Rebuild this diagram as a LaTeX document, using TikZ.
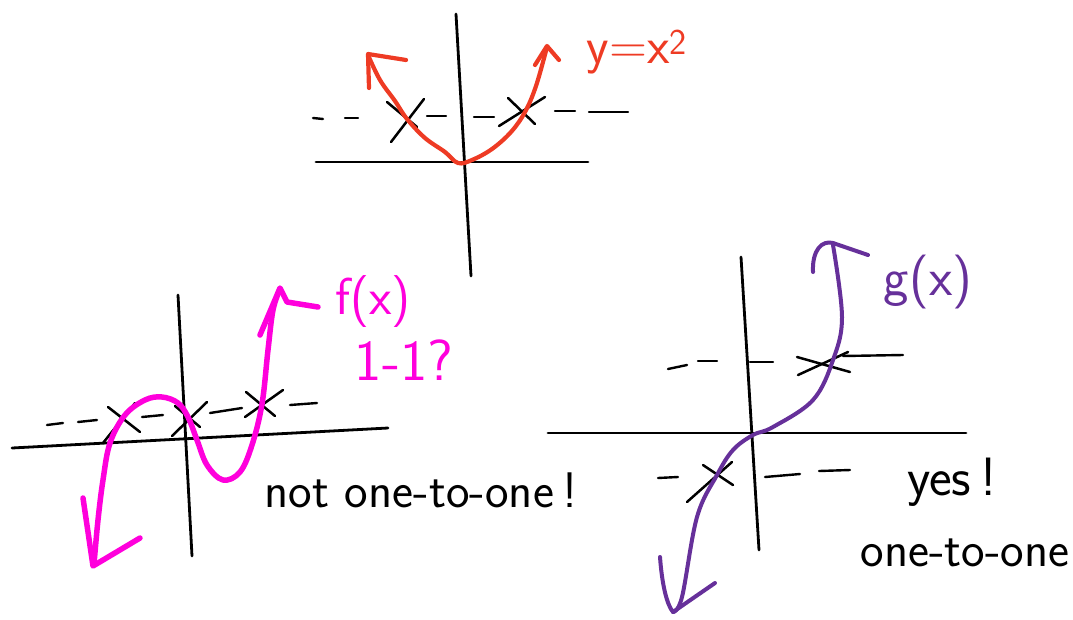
\documentclass[tikz,border=0pt]{standalone}
\usepackage{tikz}
\usetikzlibrary{calc}
\usepackage{xcolor}
\definecolor{sketchred}{HTML}{EE3B24}
\definecolor{sketchpink}{HTML}{FF00DC}
\definecolor{sketchpurple}{HTML}{66309A}
\tikzset{
  axisline/.style={black,line width=2.8pt,line cap=round},
  dashbit/.style={black,line width=2.4pt,line cap=round},
  crossline/.style={black,line width=2.5pt,line cap=round},
  curvered/.style={sketchred,line width=4.2pt,line cap=round,line join=round},
  curvepink/.style={sketchpink,line width=5.5pt,line cap=round,line join=round},
  curvepurple/.style={sketchpurple,line width=4pt,line cap=round,line join=round},
  scrawl/.style={font=\sffamily\fontsize{#1}{#1}\selectfont,inner sep=0pt},
  scrawl/.default=48,
}
\begin{document}
\begin{tikzpicture}[x=1pt,y=-1pt]
        \useasboundingbox(0,0)rectangle(1073,619);
        % y = x^2
        \draw[axisline](456,14)--(471,276);
        \draw[axisline](316,162)--(588,162);
        \foreach \a/\b/\c/\d in {313/118/323/119,345/118/358/118,427/116/446/116,474/117/494/117,555/111/575/111,589/112/628/112}
          \draw[dashbit](\a,\b)--(\c,\d);
        \draw[crossline](387,102)--(417,127);
        \draw[crossline](424,99)--(391,142);
        \draw[crossline](508,98)--(535,124);
        \draw[crossline](545,97)--(499,126);
        \draw[curvered]plot[smooth,tension=0.6]coordinates{(368,55)(380,80)(395,101)(407,119)(425,138)(445,152)(458,163)(472,160)(492,149)(511,132)(525,112)(536,86)(547,47)};
        \draw[curvered](369,88)--(368,54)--(406,60);
        \draw[curvered](535,65)--(547,46)--(559,60);
        \node[scrawl=52,text=sketchred](sq)at(637,52){y=x\textsuperscript{2}};
        % f(x)
        \draw[axisline](178,295)--(192,556);
        \draw[axisline](12,448)--(388,428);
        \foreach \a/\b/\c/\d in {47/425/63/423,78/422/97/420,142/417/163/415,210/413/242/408,290/405/317/403}
          \draw[dashbit](\a,\b)--(\c,\d);
        \draw[crossline](108,407)--(140,432);
        \draw[crossline](135,403)--(103,443);
        \draw[crossline](175,406)--(200,427);
        \draw[crossline](207,402)--(172,436);
        \draw[crossline](246,392)--(275,416);
        \draw[crossline](283,390)--(245,417);
        \draw[curvepink]plot[smooth,tension=0.6]coordinates{(94,564)(98,520)(103,480)(110,443)(125,415)(145,400)(162,397)(178,403)(188,417)(197,440)(207,465)(223,480)(240,472)(252,445)(262,404)(268,350)(273,310)(280,289)};
        \draw[curvepink](260,335)--(280,288)--(287,302)--(318,307);
        \draw[curvepink](83,498)--(93,566)--(140,538);
        \node[scrawl=52,text=sketchpink](fx)at(373,302){f(x)};
        \node[scrawl=58,text=sketchpink](qq)at(404,360){1-1?};
        \node[scrawl=50](no)at(421,490){not one-to-one\,!};
        % g(x)
        \draw[axisline](741,257)--(759,550);
        \draw[axisline](548,433)--(966,433);
        \foreach \a/\b/\c/\d in {668/369/687/365,698/361/717/361,750/362/773/362,843/356/903/355,658/478/678/477,765/477/800/474,819/471/850/470}
          \draw[dashbit](\a,\b)--(\c,\d);
        \draw[crossline](797,357)--(850,372);
        \draw[crossline](848,352)--(798,375);
        \draw[crossline](703,465)--(733,485);
        \draw[crossline](732,462)--(687,502);
        \draw[curvepurple]plot[smooth,tension=0.6]coordinates{(833,245)(842,317)(833,360)(813,400)(773,427)(753,435)(733,450)(717,475)(697,517)(682,597)(673,612)};
        \draw[curvepurple](813,272)..controls(812,250)and(822,240)..(833,243)--(868,255);
        \draw[curvepurple](660,557)..controls(662,585)and(667,605)..(673,612)--(715,583);
        \node[scrawl=54,text=sketchpurple](gx)at(928,282){g(x)};
        \node[scrawl=54](ys)at(952,482){yes\,!};
        \node[scrawl=50](oo)at(965,553){one-to-one};
      \end{tikzpicture}
\end{document}
